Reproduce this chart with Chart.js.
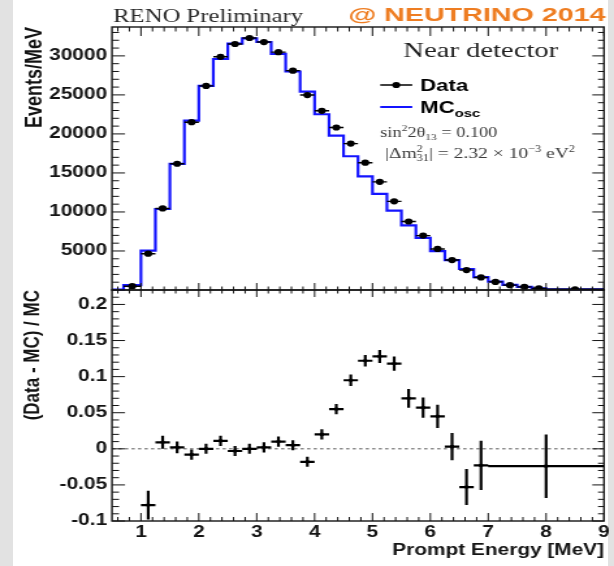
<!DOCTYPE html>
<html>
<head>
<meta charset="utf-8">
<script src="https://cdn.jsdelivr.net/npm/chart.js@4/dist/chart.umd.min.js"></script>
<style>
  html, body { margin: 0; padding: 0; background: #fff; }
  body { width: 614px; height: 566px; position: relative; overflow: hidden; }
  .strip { position: absolute; top: 0; height: 566px; background: #e2e2e2; }
  canvas { position: absolute; left: 0; }
</style>
</head>
<body>
<div class="strip" style="left:0;width:13px;"></div>
<div class="strip" style="right:0;width:6px;"></div>
<canvas id="spectrum" width="472" height="295" style="top:0;width:614px;height:295px;"></canvas>
<canvas id="ratio" width="472" height="281" style="top:285px;width:614px;height:281px;"></canvas>
<script>
// ---------- prompt energy spectrum, near detector ----------
// MC (oscillated) histogram: bin edges [MeV] and contents [events/MeV]
const mcEdges = [0.5, 0.7, 1.0, 1.25, 1.5, 1.75, 2.0, 2.25, 2.5, 2.75, 3.0, 3.25, 3.5, 3.75,
  4.0, 4.25, 4.5, 4.75, 5.0, 5.25, 5.5, 5.75, 6.0, 6.25, 6.5, 6.75, 7.0, 7.25, 7.5, 7.75, 8.0, 9.0];
const mcEvents = [60, 620, 5040, 10380, 16170, 21700, 26150, 29600, 31580, 32250, 31780, 30250,
  28000, 25420, 22520, 19780, 17140, 14560, 12310, 10160, 8280, 6680, 4980, 3830, 2690, 1650,
  1070, 650, 400, 210, 70];

// Data: bin edges [MeV] and contents [events/MeV]
const dataEdges = [0.7, 1.0, 1.25, 1.5, 1.75, 2.0, 2.25, 2.5, 2.75, 3.0, 3.25, 3.5, 3.75, 4.0,
  4.25, 4.5, 4.75, 5.0, 5.25, 5.5, 5.75, 6.0, 6.25, 6.5, 6.75, 7.0, 7.25, 7.5, 7.75, 8.0, 9.0];
const dataEvents = [490, 4650, 10450, 16180, 21500, 26150, 29880, 31520, 32290, 31770, 30480,
  28110, 24980, 22960, 20820, 18760, 16310, 13860, 11360, 8780, 6970, 5260, 3840, 2550, 1610,
  1040, 620, 400, 200, 90];

// (Data - MC) / MC with its uncertainties
const ratioEdges = [1.0, 1.25, 1.5, 1.75, 2.0, 2.25, 2.5, 2.75, 3.0, 3.25, 3.5, 3.75, 4.0, 4.25,
  4.5, 4.75, 5.0, 5.25, 5.5, 5.75, 6.0, 6.25, 6.5, 6.75, 7.0, 9.0];
const ratioValues = [-0.078, 0.009, 0.002, -0.008, 0.000, 0.011, -0.003, 0.000, 0.002, 0.010,
  0.005, -0.018, 0.020, 0.055, 0.095, 0.122, 0.128, 0.118, 0.070, 0.057, 0.045, 0.003, -0.053,
  -0.023, -0.024];
const ratioErrors = [0.020, 0.009, 0.008, 0.007, 0.007, 0.007, 0.007, 0.007, 0.007, 0.007, 0.007,
  0.007, 0.007, 0.007, 0.008, 0.008, 0.009, 0.010, 0.013, 0.014, 0.016, 0.019, 0.025, 0.034, 0.044];

// axis tick labels
const energyTicks = [1, 2, 3, 4, 5, 6, 7, 8, 9];
const eventTicks = [5000, 10000, 15000, 20000, 25000, 30000];
const ratioTicks = [-0.1, -0.05, 0, 0.05, 0.1, 0.15, 0.2];

// ---------- styling ----------
const SANS = "'Liberation Sans', Arial, Helvetica, sans-serif";
const SERIF = "'Liberation Serif', 'Times New Roman', serif";
const INK = '#141414';
const tickFont = { family: SANS, size: 16, weight: 'bold' };
const AXIS_W = 86.1;          // width reserved for the y axis (canvas units)
const RIGHT_PAD = 7.7;

// histogram outline as stepped points
const mcSteps = mcEvents.map((v, i) => ({ x: mcEdges[i], y: v }));
mcSteps.push({ x: mcEdges[mcEdges.length - 1], y: mcEvents[mcEvents.length - 1] });

const dataPoints = dataEvents.map((v, i) => ({
  x: (dataEdges[i] + dataEdges[i + 1]) / 2, y: v, lo: dataEdges[i], hi: dataEdges[i + 1], err: 0
}));
const ratioPoints = ratioValues.map((v, i) => ({
  x: (ratioEdges[i] + ratioEdges[i + 1]) / 2, y: v, lo: ratioEdges[i], hi: ratioEdges[i + 1], err: ratioErrors[i]
}));

// minor tick positions
const energyMinor = [];
for (let k = 3; k <= 44; k++) if (k % 5 !== 0) energyMinor.push(k / 5);
const eventMinor = [];
for (let k = 1; k <= 33; k++) if (k % 5 !== 0) eventMinor.push(k * 1000);
const ratioMinor = [];
for (let k = -9; k <= 22; k++) if (k % 5 !== 0) ratioMinor.push(k / 100);

// ROOT-like frame with inward ticks on all four sides
function frameTicks(cfg) {
  return {
    id: 'frameTicks',
    afterDatasetsDraw(chart) {
      const { ctx, chartArea: a } = chart;
      const xs = chart.scales.x, ys = chart.scales.y;
      ctx.save();
      ctx.strokeStyle = INK;
      ctx.lineWidth = 1;
      ctx.beginPath();
      const xTick = (v, lt, lb) => {
        const p = xs.getPixelForValue(v);
        ctx.moveTo(p, a.top); ctx.lineTo(p, a.top + lt);
        ctx.moveTo(p, a.bottom); ctx.lineTo(p, a.bottom - lb);
      };
      const yTick = (v, ll, lr) => {
        const p = ys.getPixelForValue(v);
        ctx.moveTo(a.left, p); ctx.lineTo(a.left + ll, p);
        ctx.moveTo(a.right, p); ctx.lineTo(a.right - lr, p);
      };
      energyTicks.forEach(v => xTick(v, cfg.xTop[0], cfg.xBot[0]));
      energyMinor.forEach(v => xTick(v, cfg.xTop[1], cfg.xBot[1]));
      cfg.yMajor.forEach(v => yTick(v, 10, 9));
      cfg.yMinor.forEach(v => yTick(v, 5.4, 4.6));
      ctx.stroke();
      ctx.lineWidth = 1.4;
      ctx.strokeRect(a.left, a.top, a.right - a.left, a.bottom - a.top);
      ctx.restore();
    }
  };
}

// horizontal (bin width) and vertical (uncertainty) error bars
function errorBars(datasetIndex, width) {
  return {
    id: 'errorBars',
    afterDatasetsDraw(chart) {
      const { ctx, chartArea: a } = chart;
      const xs = chart.scales.x, ys = chart.scales.y;
      const pts = chart.data.datasets[datasetIndex].data;
      ctx.save();
      ctx.beginPath();
      ctx.rect(a.left, a.top - 2, a.right - a.left, a.bottom - a.top + 4);
      ctx.clip();
      ctx.strokeStyle = '#000';
      ctx.lineWidth = width;
      ctx.beginPath();
      pts.forEach(p => {
        const py = ys.getPixelForValue(p.y);
        ctx.moveTo(xs.getPixelForValue(p.lo), py);
        ctx.lineTo(xs.getPixelForValue(p.hi), py);
        if (p.err) {
          const px = xs.getPixelForValue(p.x);
          ctx.moveTo(px, ys.getPixelForValue(p.y - p.err));
          ctx.lineTo(px, ys.getPixelForValue(p.y + p.err));
        }
      });
      ctx.stroke();
      ctx.restore();
    }
  };
}

// text with sub/superscripts
function drawRich(ctx, x, y, parts, size, family, weight, color) {
  let cx = x, held = 0;
  ctx.fillStyle = color;
  ctx.textBaseline = 'alphabetic';
  ctx.textAlign = 'left';
  parts.forEach(p => {
    const s = p.size || size;
    ctx.font = `${weight} ${s}px ${family}`;
    ctx.fillText(p.t, cx, y + (p.dy || 0));
    const w = ctx.measureText(p.t).width;
    if (p.hold) { held = w; return; }
    cx += Math.max(w, held);
    held = 0;
  });
}

const annotations = {
  id: 'annotations',
  afterDraw(chart) {
    const ctx = chart.ctx;
    ctx.save();
    // header
    ctx.fillStyle = '#2a2a2a';
    ctx.font = `19px ${SERIF}`;
    ctx.textBaseline = 'alphabetic';
    ctx.fillText('RENO Preliminary', 86.9, 21.5);
    ctx.save();
    ctx.translate(267.7, 21);
    ctx.scale(1.16, 1);
    ctx.fillStyle = '#ee7d22';
    ctx.font = `bold 19px ${SANS}`;
    ctx.fillText('@ NEUTRINO 2014', 0, 0);
    ctx.restore();

    ctx.fillStyle = '#1e1e1e';
    ctx.font = `22px ${SERIF}`;
    ctx.fillText('Near detector', 310, 57);

    // legend
    ctx.strokeStyle = '#000';
    ctx.lineWidth = 1.5;
    ctx.beginPath(); ctx.moveTo(292.3, 85); ctx.lineTo(316.9, 85); ctx.stroke();
    ctx.fillStyle = '#000';
    ctx.beginPath(); ctx.arc(304.6, 85, 3.1, 0, Math.PI * 2); ctx.fill();
    ctx.strokeStyle = '#1414ff';
    ctx.lineWidth = 2;
    ctx.beginPath(); ctx.moveTo(292.3, 107); ctx.lineTo(316.9, 107); ctx.stroke();
    drawRich(ctx, 323, 91, [{ t: 'Data' }], 17, SANS, 'bold', '#000');
    drawRich(ctx, 323, 113, [{ t: 'MC' }, { t: 'osc', size: 11.5, dy: 4 }], 17, SANS, 'bold', '#000');

    // oscillation parameters
    drawRich(ctx, 292.3, 137, [
      { t: 'sin' }, { t: '2', size: 9, dy: -6 }, { t: '2θ' }, { t: '13', size: 9, dy: 3 },
      { t: ' = 0.100' }
    ], 14, SERIF, '', '#3a3a3a');
    drawRich(ctx, 296, 158, [
      { t: '|Δm' }, { t: '2', size: 9.5, dy: -6, hold: true }, { t: '31', size: 9.5, dy: 3 },
      { t: '| = 2.32 × 10' }, { t: '−3', size: 9.5, dy: -6 }, { t: ' eV' }, { t: '2', size: 9.5, dy: -6 }
    ], 15, SERIF, '', '#3a3a3a');
    ctx.restore();
  }
};

const zeroLine = {
  id: 'zeroLine',
  beforeDatasetsDraw(chart) {
    const { ctx, chartArea: a } = chart;
    const y = chart.scales.y.getPixelForValue(0);
    ctx.save();
    ctx.strokeStyle = '#555';
    ctx.lineWidth = 1;
    ctx.setLineDash([2.5, 2.5]);
    ctx.beginPath(); ctx.moveTo(a.left, y); ctx.lineTo(a.right, y); ctx.stroke();
    ctx.restore();
  }
};

function yAxisFit(s) { s.width = AXIS_W; s.paddingTop = 0; s.paddingBottom = 0; }

// ---------- upper panel: spectrum ----------
new Chart(document.getElementById('spectrum'), {
  type: 'scatter',
  data: {
    datasets: [
      { type: 'line', label: 'MC', data: mcSteps, showLine: true, stepped: true,
        borderColor: '#1414ff', borderWidth: 2.2, pointRadius: 0, fill: false, clip: 4, order: 2 },
      { type: 'scatter', label: 'Data', data: dataPoints, pointRadius: 3.1,
        pointBackgroundColor: '#000', pointBorderWidth: 0, order: 1 }
    ]
  },
  options: {
    responsive: false, animation: false, devicePixelRatio: 1,
    layout: { padding: { left: 0, right: RIGHT_PAD, top: 27, bottom: 5 } },
    plugins: { legend: { display: false }, tooltip: { enabled: false } },
    scales: {
      x: { type: 'linear', min: 0.5, max: 9, display: false },
      y: {
        type: 'linear', min: 0, max: 33700,
        afterFit: yAxisFit,
        afterBuildTicks: s => { s.ticks = eventTicks.map(v => ({ value: v })); },
        ticks: { font: tickFont, color: INK, padding: 3.8, callback: v => String(v) },
        grid: { display: false, drawTicks: false },
        border: { display: false },
        title: { display: true, text: 'Events/MeV', align: 'end', color: INK,
          font: { family: SANS, size: 18, weight: 'bold' }, padding: { top: 16.1, bottom: 0 } }
      }
    }
  },
  plugins: [frameTicks({ xTop: [9, 4.5], xBot: [7, 3.5], yMajor: eventTicks, yMinor: eventMinor }),
            errorBars(1, 1.4), annotations]
});

// ---------- lower panel: (Data - MC) / MC ----------
new Chart(document.getElementById('ratio'), {
  type: 'scatter',
  data: {
    datasets: [
      { label: '(Data - MC) / MC', data: ratioPoints, pointRadius: 1.8,
        pointBackgroundColor: '#000', pointBorderWidth: 0 }
    ]
  },
  options: {
    responsive: false, animation: false, devicePixelRatio: 1,
    layout: { padding: { left: 0, right: RIGHT_PAD, top: 5, bottom: 0 } },
    plugins: { legend: { display: false }, tooltip: { enabled: false } },
    scales: {
      x: {
        type: 'linear', min: 0.5, max: 9,
        afterFit: s => { s.height = 45; s.paddingLeft = 0; s.paddingRight = 0; },
        afterBuildTicks: s => { s.ticks = energyTicks.map(v => ({ value: v })); },
        ticks: { font: tickFont, color: INK, padding: 2, maxRotation: 0, autoSkip: false,
          callback: v => String(v) },
        grid: { display: false, drawTicks: false },
        border: { display: false },
        title: { display: true, text: 'Prompt Energy [MeV]', align: 'end', color: INK,
          font: { family: SANS, size: 16, weight: 'bold' }, padding: { top: 0, bottom: 5.4 } }
      },
      y: {
        type: 'linear', min: -0.1, max: 0.22,
        afterFit: yAxisFit,
        afterBuildTicks: s => { s.ticks = ratioTicks.map(v => ({ value: v })); },
        ticks: { font: tickFont, color: INK, padding: 3.8, callback: v => String(+v.toFixed(2)) },
        grid: { display: false, drawTicks: false },
        border: { display: false },
        title: { display: true, text: '(Data - MC) / MC', align: 'end', color: INK,
          font: { family: SANS, size: 17, weight: 'bold' }, padding: { top: 15.2, bottom: 0 } }
      }
    }
  },
  plugins: [zeroLine, frameTicks({ xTop: [7, 3.5], xBot: [8, 4], yMajor: ratioTicks, yMinor: ratioMinor }),
            errorBars(0, 2.2)]
});
</script>
</body>
</html>
